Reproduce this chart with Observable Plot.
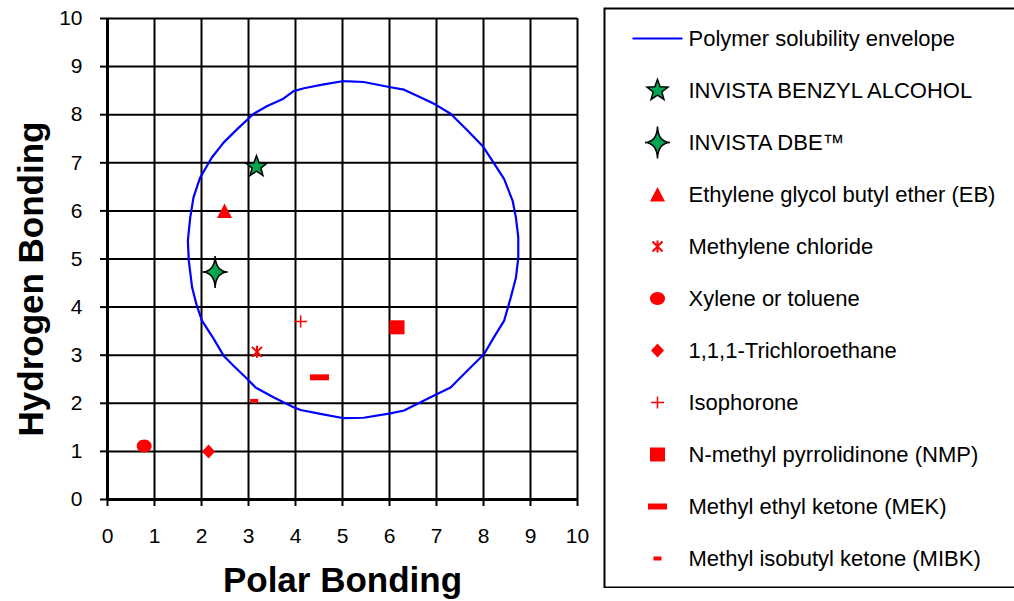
<!DOCTYPE html>
<html>
<head>
<meta charset="utf-8">
<script src="https://cdn.jsdelivr.net/npm/d3@7"></script>
<script src="https://cdn.jsdelivr.net/npm/@observablehq/plot@0.6"></script>
<style>
  html, body { margin: 0; padding: 0; background: #fff; }
  #wrap { position: relative; width: 1014px; height: 601px; overflow: hidden; background: #fff; }
  #main { position: absolute; left: 0; top: 0; width: 600px; }
  #legend { position: absolute; left: 603px; top: 7px; width: 420px; }
  #wrap svg { max-width: none !important; }
</style>
</head>
<body>
<div id="wrap"><div id="main"></div><div id="legend"></div></div>
<script>
// ---- Data ----
const solvents = ["INVISTA BENZYL ALCOHOL", "INVISTA DBE™", "Ethylene glycol butyl ether (EB)", "Methylene chloride", "Xylene or toluene", "1,1,1-Trichloroethane", "Isophorone", "N-methyl pyrrolidinone (NMP)", "Methyl ethyl ketone (MEK)", "Methyl isobutyl ketone (MIBK)"];
const polar    = [3.17, 2.29, 2.49, 3.18, 0.78, 2.15, 4.11, 6.16, 4.51, 3.12];
const hydrogen = [6.92, 4.73, 6.00, 3.07, 1.11, 1.00, 3.70, 3.58, 2.54, 2.05];

const envelopeLabel = "Polymer solubility envelope";
const envPolar    = [5.03,5.45,6.02,6.31,6.70,6.98,7.30,7.66,7.98,8.19,8.44,8.62,8.69,8.74,8.74,8.69,8.58,8.44,8.22,8.01,7.66,7.30,6.95,6.66,6.31,6.02,5.45,5.03,4.53,4.11,3.96,3.54,3.15,2.97,2.68,2.47,2.26,2.01,1.90,1.80,1.73,1.71,1.76,1.83,1.97,2.22,2.47,2.76,3.11,3.40,3.72,3.96,4.18,4.60,5.03];
const envHydrogen = [8.70,8.68,8.57,8.52,8.34,8.21,8.02,7.67,7.35,7.04,6.66,6.21,5.86,5.45,5.03,4.61,4.20,3.72,3.37,3.02,2.68,2.33,2.16,2.02,1.85,1.79,1.70,1.69,1.78,1.86,1.92,2.12,2.33,2.51,2.78,2.99,3.34,3.72,4.03,4.41,4.96,5.38,5.86,6.28,6.69,7.11,7.42,7.70,8.02,8.18,8.32,8.49,8.55,8.63,8.70];

const tickValues = [0,1,2,3,4,5,6,7,8,9,10];
const xTitle = "Polar Bonding";
const yTitle = "Hydrogen Bonding";

// ---- Symbols ----
const star5 = {draw(c) {
  const R = 11, r = 4.6;
  for (let i = 0; i < 10; i++) {
    const a = -Math.PI / 2 + i * Math.PI / 5, rr = i % 2 ? r : R;
    const x = rr * Math.cos(a), y = rr * Math.sin(a);
    i ? c.lineTo(x, y) : c.moveTo(x, y);
  }
  c.closePath();
}};
const star4 = {draw(c) {
  const k = 0.6;
  c.moveTo(0, -16);
  c.quadraticCurveTo(k, -k, 12.5, 0);
  c.quadraticCurveTo(k, k, 0, 16);
  c.quadraticCurveTo(-k, k, -12.5, 0);
  c.quadraticCurveTo(-k, -k, 0, -16);
  c.closePath();
}};
const tri = {draw(c) { c.moveTo(0, -7.5); c.lineTo(7.5, 7); c.lineTo(-7.5, 7); c.closePath(); }};
const aster = {draw(c) {
  c.moveTo(-5, -5); c.lineTo(5, 5);
  c.moveTo(5, -5); c.lineTo(-5, 5);
  c.moveTo(0, -6); c.lineTo(0, 6);
}};
const ellipse = {draw(c) {
  const rx = 7.5, ry = 6.5, k = 0.5523;
  c.moveTo(rx, 0);
  c.bezierCurveTo(rx, ry * k, rx * k, ry, 0, ry);
  c.bezierCurveTo(-rx * k, ry, -rx, ry * k, -rx, 0);
  c.bezierCurveTo(-rx, -ry * k, -rx * k, -ry, 0, -ry);
  c.bezierCurveTo(rx * k, -ry, rx, -ry * k, rx, 0);
  c.closePath();
}};
const diamond = {draw(c) { c.moveTo(0, -7); c.lineTo(6.5, 0); c.lineTo(0, 7); c.lineTo(-6.5, 0); c.closePath(); }};
const plus = {draw(c) { c.moveTo(-6.5, 0); c.lineTo(6.5, 0); c.moveTo(0, -6); c.lineTo(0, 6); }};
const square = {draw(c) { c.rect(-7.5, -7, 15, 14); }};
const dashL = {draw(c) { c.rect(-9.5, -3, 19, 6); }};
const dashS = {draw(c) { c.rect(-4, -2, 8, 4); }};
const lineSym = {draw(c) { c.moveTo(-25, 0); c.lineTo(25, 0); }};

const RED = "#ff0000", GREEN = "#00a651", BLUE = "#0000ff";
const styles = [
  {symbol: star5, fill: GREEN, stroke: "#000", strokeWidth: 1.5},
  {symbol: star4, fill: GREEN, stroke: "#000", strokeWidth: 1.5},
  {symbol: tri, fill: RED, stroke: "none"},
  {symbol: aster, fill: "none", stroke: RED, strokeWidth: 2},
  {symbol: ellipse, fill: RED, stroke: "none"},
  {symbol: diamond, fill: RED, stroke: "none"},
  {symbol: plus, fill: "none", stroke: RED, strokeWidth: 1.5},
  {symbol: square, fill: RED, stroke: "none"},
  {symbol: dashL, fill: RED, stroke: "none"},
  {symbol: dashS, fill: RED, stroke: "none"}
];

const rows = solvents.map((name, i) => ({name, px: polar[i], hb: hydrogen[i], i}));
const env = envPolar.map((x, i) => ({x, y: envHydrogen[i]}));

const font = "'Liberation Sans', Arial, Helvetica, sans-serif";

const main = Plot.plot({
  width: 600, height: 601,
  marginLeft: 107, marginRight: 23, marginTop: 18, marginBottom: 102,
  x: {domain: [0, 10]},
  y: {domain: [0, 10]},
  style: {fontFamily: font, background: "white", color: "black"},
  marks: [
    Plot.gridX(tickValues, {stroke: "black", strokeOpacity: 1, strokeWidth: 2}),
    Plot.gridY(tickValues, {stroke: "black", strokeOpacity: 1, strokeWidth: 2}),
    Plot.axisX(tickValues, {tickSize: 7, tickPadding: 22, fontSize: 21, label: null, strokeWidth: 2, tickFormat: d => d}),
    Plot.axisY(tickValues, {tickSize: 7, tickPadding: 18, fontSize: 21, label: null, strokeWidth: 2, tickFormat: d => d}),
    Plot.ruleX([0], {stroke: "black", strokeWidth: 3}),
    Plot.ruleY([0], {stroke: "black", strokeWidth: 3}),
    Plot.line(env, {x: "x", y: "y", stroke: BLUE, strokeWidth: 2.2}),
    ...rows.map(r => Plot.dot([r], {x: "px", y: "hb", r: 8, ...styles[r.i]})),
    Plot.text([xTitle], {text: d => d, frameAnchor: "bottom", dy: 81, fontSize: 35, fontWeight: "bold", lineAnchor: "middle", textAnchor: "middle"}),
    Plot.text([yTitle], {text: d => d, frameAnchor: "left", rotate: -90, dx: -76, dy: 20, fontSize: 35, fontWeight: "bold", lineAnchor: "middle", textAnchor: "middle"})
  ]
});
document.getElementById("main").appendChild(main);

const legendLabels = [envelopeLabel, ...solvents];
const legendStyles = [{symbol: lineSym, fill: "none", stroke: BLUE, strokeWidth: 2}, ...styles];
const legend = Plot.plot({
  width: 420, height: 581,
  margin: 0,
  y: {type: "point", domain: legendLabels, range: [26, 555], padding: 0, axis: null},
  style: {fontFamily: font, background: "white", color: "black"},
  marks: [
    Plot.frame({stroke: "black", strokeWidth: 2, inset: 1}),
    ...legendLabels.map((lab, i) => Plot.dot([lab], {y: d => d, frameAnchor: "left", dx: 54, r: 8, ...legendStyles[i]})),
    Plot.text(legendLabels, {y: d => d, text: d => d, frameAnchor: "left", dx: 85, textAnchor: "start", fontSize: 22, fill: "black"})
  ]
});
document.getElementById("legend").appendChild(legend);
</script>
</body>
</html>
